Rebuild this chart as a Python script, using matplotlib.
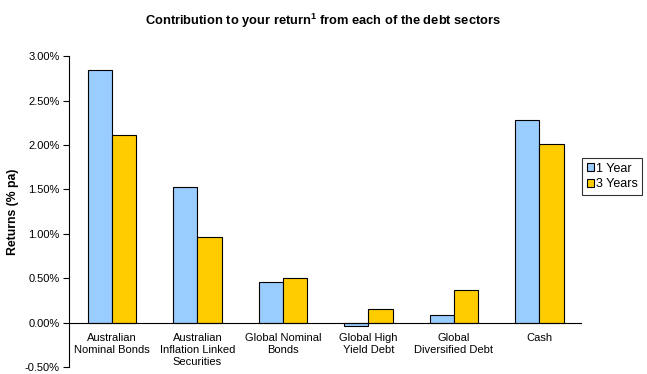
import numpy as np
import matplotlib
matplotlib.use("Agg")
import matplotlib.pyplot as plt
from matplotlib.ticker import FuncFormatter

plt.rcParams['font.family'] = ['Liberation Sans', 'DejaVu Sans']
plt.rcParams['mathtext.fontset'] = 'custom'
plt.rcParams['mathtext.rm'] = 'Liberation Sans'
plt.rcParams['mathtext.bf'] = 'Liberation Sans:bold'

categories = ["Australian\nNominal Bonds", "Australian\nInflation Linked\nSecurities",
              "Global Nominal\nBonds", "Global High\nYield Debt",
              "Global\nDiversified Debt", "Cash"]
one_year = [2.84, 1.53, 0.46, -0.04, 0.09, 2.28]
three_years = [2.11, 0.97, 0.50, 0.16, 0.37, 2.01]

fig = plt.figure(figsize=(6.47, 3.74), dpi=100)
ax = fig.add_axes([0.107, 0.018, 0.7925, 0.832])

x = np.arange(len(categories))
w = 0.284
ax.bar(x - w/2, one_year, w, color='#99ccff', edgecolor='black', linewidth=0.8, label='1 Year')
ax.bar(x + w/2, three_years, w, color='#ffcc00', edgecolor='black', linewidth=0.8, label='3 Years')

ax.set_xlim(-0.5, len(categories) - 0.5)
ax.set_ylim(-0.5, 3.0)
ax.set_yticks(np.arange(-0.5, 3.01, 0.5))
ax.yaxis.set_major_formatter(FuncFormatter(lambda v, p: "%.2f%%" % v))
ax.tick_params(axis='y', labelsize=8, length=4, width=0.8, direction='out', pad=3)
ax.tick_params(axis='x', length=0)
ax.set_xticks([])
for s in ['top', 'right', 'bottom']:
    ax.spines[s].set_visible(False)
ax.spines['left'].set_linewidth(0.8)
ax.axhline(0, color='black', linewidth=0.8)

for i, c in enumerate(categories):
    ax.text(i, -0.12, c, ha='center', va='top', fontsize=8, linespacing=1.2)

ax.set_ylabel("Returns (% pa)", fontsize=8.8, fontweight='bold', labelpad=4)

fig.text(0.5, 0.944, "Contribution to your return$^{\\mathbf{1}}$ from each of the debt sectors",
         ha='center', va='center', fontsize=9.3, fontweight='bold')

leg = ax.legend(loc='center left', bbox_to_anchor=(0.9, 0.528),
                bbox_transform=fig.transFigure, fontsize=9,
                frameon=True, fancybox=False, handlelength=0.56, handleheight=0.56,
                handletextpad=0.2, borderpad=0.35, labelspacing=0.3, borderaxespad=0)
leg.get_frame().set_edgecolor('black')
leg.get_frame().set_linewidth(0.8)

fig.savefig("out.png", dpi=100)
